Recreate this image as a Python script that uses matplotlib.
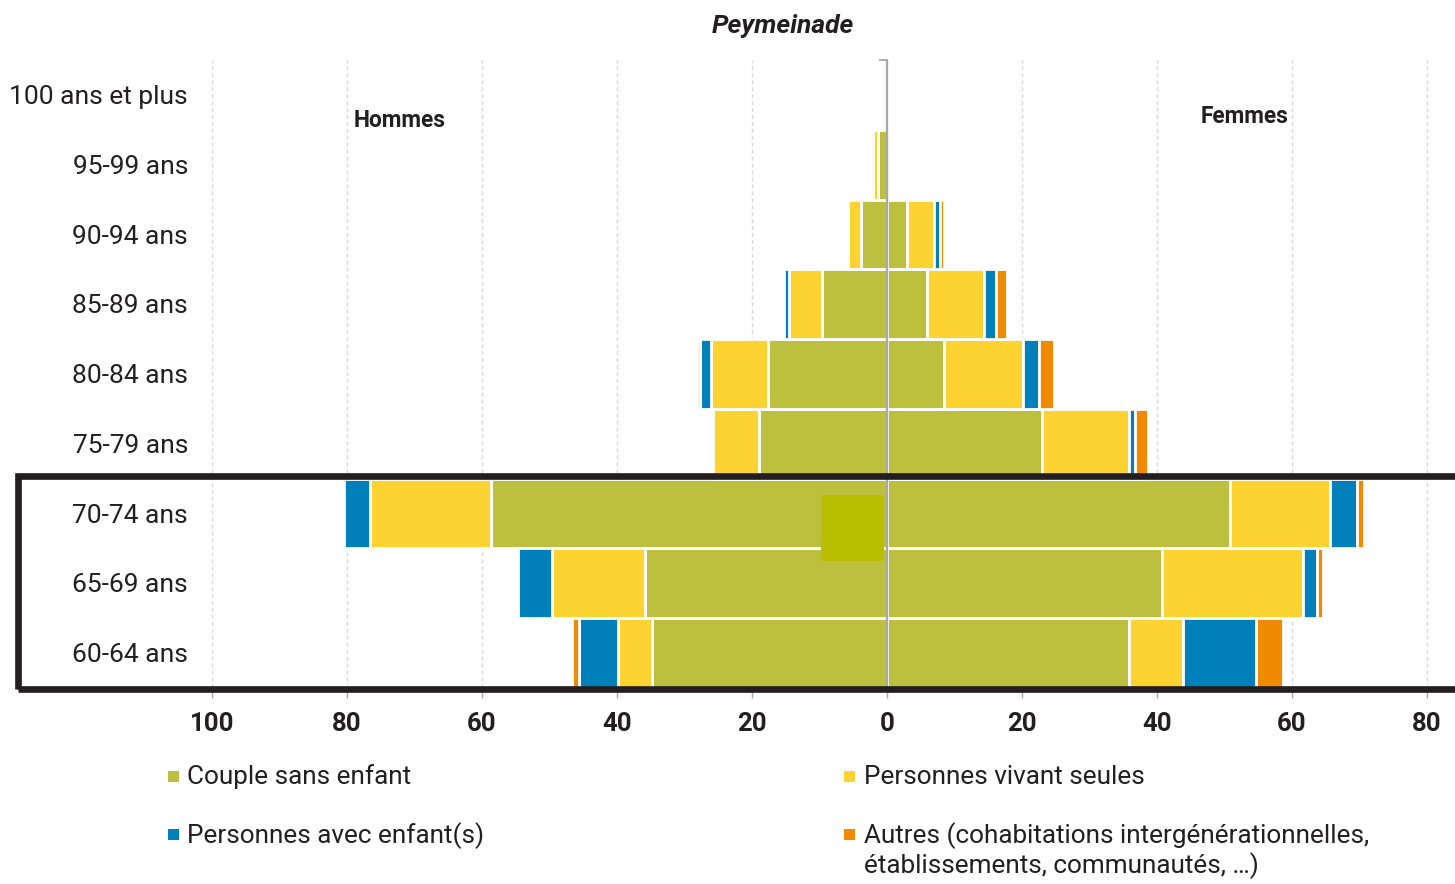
import numpy as np
import matplotlib
matplotlib.use("Agg")
import matplotlib.pyplot as plt
from matplotlib.patches import Rectangle
from matplotlib.ticker import FuncFormatter
import matplotlib.transforms as mtransforms

plt.rcParams["font.family"] = ["Roboto", "DejaVu Sans"]

# Age groups, bottom to top
categories = ["60-64 ans", "65-69 ans", "70-74 ans", "75-79 ans", "80-84 ans",
              "85-89 ans", "90-94 ans", "95-99 ans", "100 ans et plus"]

# Hommes (drawn to the left)
men_couple = [34.8, 35.8, 58.7, 18.9, 17.6, 9.7, 3.9, 1.4, 0.0]
men_alone = [5.0, 13.9, 17.9, 6.9, 8.5, 4.8, 1.9, 0.6, 0.0]
men_children = [5.9, 5.0, 3.9, 0.0, 1.6, 0.8, 0.0, 0.0, 0.0]
men_other = [1.0, 0.0, 0.0, 0.0, 0.4, 0.0, 0.0, 0.0, 0.0]

# Femmes (drawn to the right)
women_couple = [35.9, 40.8, 50.8, 22.9, 8.4, 6.0, 3.0, 0.4, 0.0]
women_alone = [7.9, 20.9, 14.9, 12.9, 11.7, 8.4, 4.0, 0.3, 0.0]
women_children = [10.9, 2.0, 4.0, 1.0, 2.4, 1.7, 0.8, 0.0, 0.0]
women_other = [4.0, 0.9, 0.9, 1.9, 2.2, 1.7, 0.7, 0.0, 0.0]

series_labels = ["Couple sans enfant", "Personnes vivant seules",
                 "Personnes avec enfant(s)",
                 "Autres (cohabitations intergénérationnelles,\nétablissements, communautés, …)"]
colors = ["#BDC03E", "#FDD331", "#0080BA", "#F08A00"]
x_ticks = [-100, -80, -60, -40, -20, 0, 20, 40, 60, 80]

W, H = 1455, 884
fig = plt.figure(figsize=(W / 100, H / 100), dpi=100)


def fx(px):
    return px / W


def fy(py):
    return 1 - py / H


ax = fig.add_axes([fx(212), fy(688), fx(1455) - fx(212), fy(60) - fy(688)])
ax.set_xlim(-100, 84.15)
ax.set_ylim(-0.5, len(categories) - 0.5)

y = np.arange(len(categories))
men = [men_couple, men_alone, men_children, men_other]
women = [women_couple, women_alone, women_children, women_other]

for side, sign in ((men, -1), (women, 1)):
    left = np.zeros(len(categories))
    for vals, col in zip(side, colors):
        v = np.array(vals) * sign
        bars = ax.barh(y, v, left=left, height=1.0, color=col,
                       edgecolor="white", linewidth=2.0, zorder=2)
        for b, val in zip(bars, vals):
            if val == 0:
                b.set_visible(False)
        left = left + v

# grid and axes styling
ax.set_xticks(x_ticks)
ax.xaxis.set_major_formatter(FuncFormatter(lambda v, p: f"{abs(int(v))}"))
ax.grid(axis="x", color="#dadada", linestyle=(0, (3, 2)), linewidth=1.0, zorder=0)
ax.set_axisbelow(True)
for s in ("top", "right"):
    ax.spines[s].set_visible(False)
ax.spines["left"].set_position(("data", 0))
ax.spines["left"].set_color("#a8a8a8")
ax.spines["left"].set_linewidth(1.6)
ax.spines["left"].set_zorder(3)
ax.spines["bottom"].set_color("#a8a8a8")
ax.set_yticks(np.arange(-0.5, len(categories), 1.0))
ax.set_yticklabels([])
ax.tick_params(axis="y", length=6, width=1.2, color="#a0a0a0", direction="out")
ax.tick_params(axis="x", length=7, width=1.0, color="#a8a8a8", pad=10,
               labelsize=18.5, labelcolor="#231f20")
for lab in ax.get_xticklabels():
    lab.set_fontweight("bold")

# category labels
lab_tr = mtransforms.blended_transform_factory(fig.transFigure, ax.transData)
for i, c in enumerate(categories):
    fig.text(fx(188), i - 0.13, c, transform=lab_tr, ha="right", va="baseline",
             fontsize=19, color="#231f20")

# side labels
ax.text(-72.2, 7.54, "Hommes", ha="center", va="baseline", fontsize=16.3,
        fontweight="bold", color="#231f20")
ax.text(52.9, 7.59, "Femmes", ha="center", va="baseline", fontsize=16.3,
        fontweight="bold", color="#231f20")

# title
fig.text(fx(783), fy(33), "Peymeinade", ha="center", va="baseline",
         fontsize=19, fontweight="bold", fontstyle="italic", color="#231f20")

# highlight frame around the 60-74 age groups
fig.add_artist(Rectangle((fx(18), fy(688.5)), fx(1470) - fx(18), fy(476) - fy(688.5),
                         transform=fig.transFigure, fill=False, edgecolor="#231f20",
                         linewidth=4.8, zorder=5, clip_on=False))
fig.add_artist(Rectangle((fx(821), fy(561)), fx(884) - fx(821), fy(495) - fy(561),
                         transform=fig.transFigure, facecolor="#B9BE00",
                         edgecolor="none", zorder=4))

# legend (baseline of the last text line, square centre)
legend_pos = [(173.5, 784, 776.5), (849.5, 784, 776.5),
              (173.5, 843.5, 834.5), (849.5, 873.5, 834.5)]
for idx, (sx, base, sq) in enumerate(legend_pos):
    fig.add_artist(Rectangle((fx(sx - 5.5), fy(sq + 5.5)), fx(11), fx(11) * W / H,
                             transform=fig.transFigure, facecolor=colors[idx],
                             edgecolor="none"))
    fig.text(fx(sx + 14), fy(base), series_labels[idx], ha="left", va="baseline",
             fontsize=18.8, color="#231f20", linespacing=1.15)

fig.savefig("out.png", dpi=100)
